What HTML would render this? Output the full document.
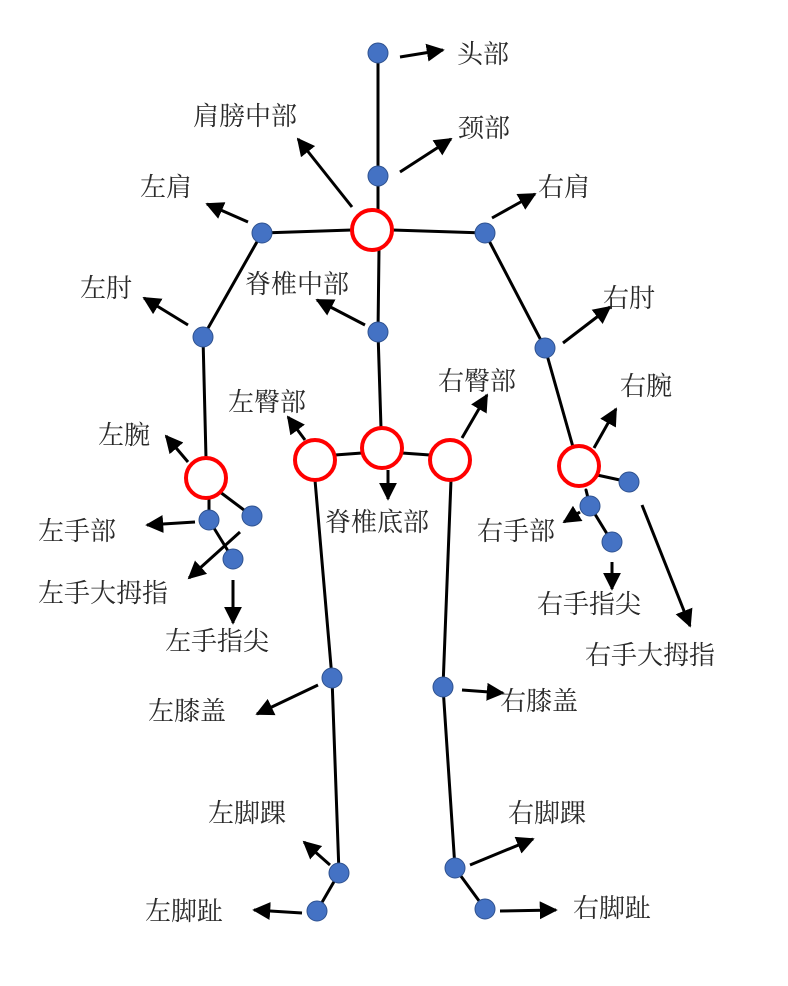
<!DOCTYPE html>
<html><head><meta charset="utf-8"><style>
html,body{margin:0;padding:0;background:#fff;}
svg{display:block}
text{font-family:"Liberation Serif","Noto Serif CJK SC",serif;font-size:26px;fill:#2a2a2a;dominant-baseline:middle}
</style></head><body>
<svg width="788" height="986" viewBox="0 0 788 986" xmlns="http://www.w3.org/2000/svg">
<defs>
<marker id="a" viewBox="0 0 10 10" refX="9" refY="5" markerWidth="6" markerHeight="6" orient="auto" markerUnits="strokeWidth">
<path d="M0,0 L10,5 L0,10 z" fill="#000"/></marker>
</defs>
<g stroke="#000" stroke-width="3" fill="none" stroke-linecap="round">
<polyline points="378,53 378,176 378,210"/>
<line x1="262" y1="233" x2="352" y2="230"/>
<line x1="392" y1="230" x2="485" y2="233"/>
<line x1="379" y1="250" x2="378" y2="332"/>
<line x1="378" y1="332" x2="381" y2="428"/>
<polyline points="262,233 203,337 206,458"/>
<line x1="220" y1="492" x2="252" y2="516"/>
<polyline points="209,498 209,520 233,559"/>
<polyline points="485,233 545,348 573,447"/>
<line x1="597" y1="475" x2="629" y2="482"/>
<polyline points="586,490 590,506 612,542"/>
<line x1="335" y1="455" x2="362" y2="453"/>
<line x1="402" y1="453" x2="430" y2="455"/>
<polyline points="315,480 332,678 339,873 317,911"/>
<polyline points="451,480 443,687 455,868 485,909"/>
</g>
<g stroke="#000" stroke-width="3" fill="none" marker-end="url(#a)">
<line x1="400" y1="57" x2="443" y2="50"/>
<line x1="400" y1="172" x2="451" y2="139"/>
<line x1="352" y1="207" x2="298" y2="139"/>
<line x1="248" y1="222" x2="207" y2="204"/>
<line x1="492" y1="218" x2="535" y2="194"/>
<line x1="365" y1="325" x2="317" y2="300"/>
<line x1="188" y1="325" x2="144" y2="298"/>
<line x1="563" y1="343" x2="610" y2="307"/>
<line x1="305" y1="440" x2="288" y2="417"/>
<line x1="462" y1="438" x2="487" y2="395"/>
<line x1="388" y1="470" x2="388" y2="499"/>
<line x1="188" y1="462" x2="166" y2="436"/>
<line x1="594" y1="448" x2="616" y2="409"/>
<line x1="195" y1="522" x2="147" y2="525"/>
<line x1="240" y1="532" x2="189" y2="578"/>
<line x1="233" y1="580" x2="233" y2="623"/>
<line x1="580" y1="512" x2="564" y2="522"/>
<line x1="612" y1="562" x2="612" y2="589"/>
<line x1="642" y1="505" x2="690" y2="626"/>
<line x1="318" y1="685" x2="257" y2="714"/>
<line x1="462" y1="690" x2="503" y2="693"/>
<line x1="330" y1="865" x2="304" y2="842"/>
<line x1="470" y1="865" x2="533" y2="839"/>
<line x1="302" y1="913" x2="254" y2="910"/>
<line x1="500" y1="911" x2="556" y2="910"/>
</g>
<g fill="#4472c4" stroke="#2f528f" stroke-width="1">
<circle cx="378" cy="53" r="10"/><circle cx="378" cy="176" r="10"/><circle cx="378" cy="332" r="10"/>
<circle cx="262" cy="233" r="10"/><circle cx="203" cy="337" r="10"/><circle cx="485" cy="233" r="10"/>
<circle cx="545" cy="348" r="10"/><circle cx="209" cy="520" r="10"/><circle cx="233" cy="559" r="10"/>
<circle cx="252" cy="516" r="10"/><circle cx="590" cy="506" r="10"/><circle cx="612" cy="542" r="10"/>
<circle cx="629" cy="482" r="10"/><circle cx="332" cy="678" r="10"/><circle cx="339" cy="873" r="10"/>
<circle cx="317" cy="911" r="10"/><circle cx="443" cy="687" r="10"/><circle cx="455" cy="868" r="10"/>
<circle cx="485" cy="909" r="10"/>
</g>
<g fill="#fff" stroke="#f00" stroke-width="4">
<circle cx="372" cy="230" r="20"/><circle cx="206" cy="478" r="20"/><circle cx="315" cy="460" r="20"/>
<circle cx="382" cy="448" r="20"/><circle cx="450" cy="460" r="20"/><circle cx="579" cy="466" r="20"/>
</g>
<g transform="translate(0,4)">
<text x="457" y="53">头部</text>
<text x="458" y="127">颈部</text>
<text x="193" y="115">肩膀中部</text>
<text x="140" y="186">左肩</text>
<text x="538" y="186">右肩</text>
<text x="245" y="283">脊椎中部</text>
<text x="80" y="287">左肘</text>
<text x="603" y="297">右肘</text>
<text x="228" y="401">左臀部</text>
<text x="438" y="380">右臀部</text>
<text x="325" y="521">脊椎底部</text>
<text x="98" y="434">左腕</text>
<text x="620" y="385">右腕</text>
<text x="38" y="530">左手部</text>
<text x="38" y="592">左手大拇指</text>
<text x="165" y="640">左手指尖</text>
<text x="477" y="530">右手部</text>
<text x="537" y="603">右手指尖</text>
<text x="585" y="654">右手大拇指</text>
<text x="148" y="710">左膝盖</text>
<text x="500" y="700">右膝盖</text>
<text x="208" y="812">左脚踝</text>
<text x="508" y="812">右脚踝</text>
<text x="145" y="910">左脚趾</text>
<text x="573" y="907">右脚趾</text>
</g>
</svg>
</body></html>
